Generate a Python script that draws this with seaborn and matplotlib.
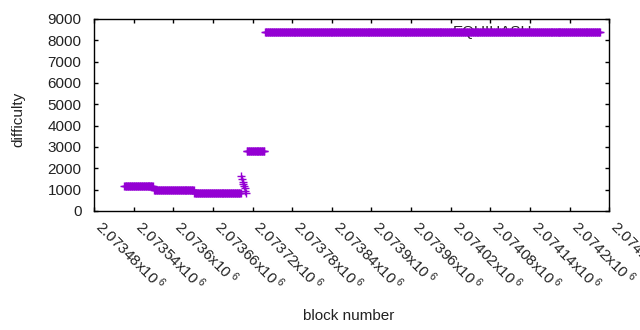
import numpy as np
import pandas as pd
import matplotlib
matplotlib.use("Agg")
import matplotlib.pyplot as plt
import seaborn as sns

# --- data (constant-difficulty runs of blocks) ---
seg_start = [2073526, 2073571, 2073632, 2073711, 2073739]
seg_end = [2073569, 2073631, 2073702, 2073738, 2074246]
seg_difficulty = [1170, 975, 830, 2800, 8380]

# individual blocks of the short drop between runs
spike_blocks = [2073703, 2073704, 2073705, 2073706, 2073707, 2073708, 2073709, 2073710]
spike_difficulty = [1655, 1500, 1375, 1265, 1172, 1062, 952, 858]

series_label = "EQUIHASH"
x_ticks = [2073480 + 60 * i for i in range(14)]
y_ticks = [0, 1000, 2000, 3000, 4000, 5000, 6000, 7000, 8000, 9000]

blocks, diffs = [], []
for s, e, d in zip(seg_start, seg_end, seg_difficulty):
    b = list(range(s, e + 1))
    blocks += b
    diffs += [d] * len(b)
blocks += spike_blocks
diffs += spike_difficulty
df = pd.DataFrame({"block": blocks, "difficulty": diffs}).sort_values("block")

sns.set_style("ticks")
plt.rcParams["font.family"] = ["Liberation Sans", "DejaVu Sans"]
plt.rcParams["mathtext.fontset"] = "custom"
plt.rcParams["mathtext.rm"] = "Liberation Sans"
plt.rcParams["mathtext.it"] = "Liberation Sans"

fig = plt.figure(figsize=(6.4, 3.3), dpi=100)
ax = fig.add_axes([94 / 640, 1 - 211 / 330, (609.3 - 94) / 640, (211 - 19) / 330])

color = "#9400D3"
sns.scatterplot(data=df, x="block", y="difficulty", marker="+", s=26,
                linewidth=1.0, color=color, ax=ax, label=series_label,
                zorder=3)

ax.set_xlim(x_ticks[0], x_ticks[-1])
ax.set_ylim(0, 9000)
ax.set_xticks(x_ticks)
ax.set_yticks(y_ticks)
ax.set_xticklabels([f"{v/1e6:g}x10$^{{\\ 6}}$" for v in x_ticks],
                   rotation=-45, ha="left", va="baseline", rotation_mode="anchor",
                   fontsize=11)
ax.set_yticklabels([str(v) for v in y_ticks], fontsize=11)
ax.tick_params(axis="both", direction="in", length=3, width=1, color="black",
               top=True, right=True, labelcolor="#222222")
ax.tick_params(axis="x", pad=12)
ax.tick_params(axis="y", pad=9)
for sp in ax.spines.values():
    sp.set_color("black")
    sp.set_linewidth(1)
    sp.set_zorder(4)

ax.set_xlabel("block number", fontsize=11, color="#222222")
ax.set_ylabel("difficulty", fontsize=11, color="#222222")
ax.xaxis.set_label_coords((349 - 94) / 515.3, -(309 - 211) / 192)
ax.yaxis.set_label_coords(-(94 - 25) / 515.3, (211 - 119) / 192)

leg = ax.legend(loc="center right", bbox_to_anchor=(0.933, 0.932),
                frameon=False, markerfirst=False, fontsize=11,
                borderaxespad=0, borderpad=0, handlelength=2,
                handletextpad=0.8, scatterpoints=1)
leg.set_zorder(1)

fig.savefig("out.png", dpi=100)
